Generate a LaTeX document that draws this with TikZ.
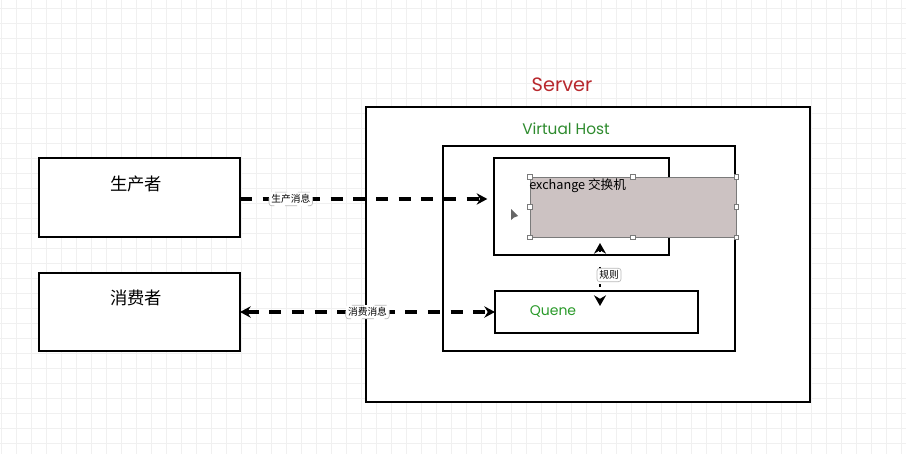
\documentclass[tikz,border=0pt]{standalone}
\usepackage{fontspec}
\setmainfont{Noto Sans CJK SC}
\newfontfamily\latinf{Poppins}
\usetikzlibrary{arrows.meta}
\definecolor{gridc}{HTML}{F0F0F0}
\definecolor{serverred}{HTML}{B8282D}
\definecolor{vhgreen}{HTML}{2E8B2E}
\definecolor{qgreen}{HTML}{2A9A2A}
\definecolor{selfill}{HTML}{CCC2C2}
\definecolor{selborder}{HTML}{7A7A7A}
\tikzset{
  box/.style={draw=black, line width=1.8pt, fill=white, inner sep=0pt, outer sep=0pt},
  flow/.style={line width=2.4pt, dash pattern=on 9pt off 8pt, -{Stealth[length=8pt,width=8.5pt]}},
  biflow/.style={line width=2.4pt, dash pattern=on 9pt off 8pt, {Stealth[length=8pt,width=8.5pt]}-{Stealth[length=8pt,width=8.5pt]}},
  rule/.style={line width=2pt, dash pattern=on 2pt off 11pt, {Stealth[length=8pt,width=9pt]}-{Stealth[length=8pt,width=9pt]}},
  tag/.style={draw=gray!55, line width=0.5pt, fill=white, rounded corners=2pt, inner sep=1.7pt, font=\fontsize{7.3}{8}\selectfont},
  handle/.style={draw=selborder, fill=white, line width=0.5pt, minimum size=3.5pt, inner sep=0pt},
}
\begin{document}
\begin{tikzpicture}[x=0.75pt,y=-0.75pt]
\useasboundingbox (0,0) rectangle (906,454);
\fill[white] (0,0) rectangle (906,454);
\foreach \gx in {1.5,16.5,...,906} \draw[gridc, line width=0.55pt] (\gx,0) -- (\gx,454);
\foreach \gy in {8,23,...,454} \draw[gridc, line width=0.55pt] (0,\gy) -- (906,\gy);

% boxes
\node[box, minimum width=150.75pt, minimum height=59.25pt] (prod) at (139.5,197.5) {};
\node[box, minimum width=150.75pt, minimum height=58.5pt] (cons) at (139.5,312) {};
\node[box, minimum width=333pt, minimum height=221.25pt] (server) at (588,254.5) {};
\node[box, minimum width=219pt, minimum height=153.75pt] (vhost) at (589,248.5) {};
\node[box, minimum width=131.25pt, minimum height=72.75pt] (exch) at (581.5,206.5) {};
\node[box, minimum width=152.25pt, minimum height=31.5pt] (quene) at (596.5,312) {};

% selection rectangle
\node[draw=selborder, fill=selfill, line width=0.6pt, minimum width=154.5pt, minimum height=45pt, inner sep=0pt] (sel) at (633,207) {};
\foreach \a [count=\i] in {north west,north,north east,east,south east,south,south west,west}
  \node[handle] (h\i) at (sel.\a) {};
\node[anchor=west, inner sep=0pt, font=\fontsize{9.5}{10}\selectfont] (exchtxt) at (529,186) {exchange 交换机};

% cursor
\fill[black!60] (511,209) -- (511,220) -- (514,217.5) -- (518,216) -- cycle;

% titles
\node[font=\latinf\fontsize{14.5}{16}\selectfont, text=serverred] (servertxt) at (562,85) {Server};
\node[font=\latinf\fontsize{11.5}{13}\selectfont, text=vhgreen] (vhtxt) at (566,129) {Virtual Host};
\node[font=\latinf\fontsize{10.5}{12}\selectfont, text=qgreen] (qtxt) at (553,311) {Quene};
\node[font=\fontsize{13}{14}\selectfont] (prodtxt) at (136,184) {生产者};
\node[font=\fontsize{13}{14}\selectfont] (constxt) at (136,298) {消费者};

% connectors
\draw[flow, shorten >=5pt] ([yshift=-1.1pt]prod.east) -- node[tag, pos=0.2] (l1) {生产消息} ([yshift=-1.1pt]prod.east -| exch.west);
\draw[biflow] (cons.east) -- node[tag, pos=0.5] (l2) {消费消息} (quene.west);
\coordinate (r1) at (600,243);
\coordinate (r2) at (600,306);
\draw[rule] (r1) -- (r2);
\node[tag] (l3) at (609,275) {规则};
\end{tikzpicture}
\end{document}
